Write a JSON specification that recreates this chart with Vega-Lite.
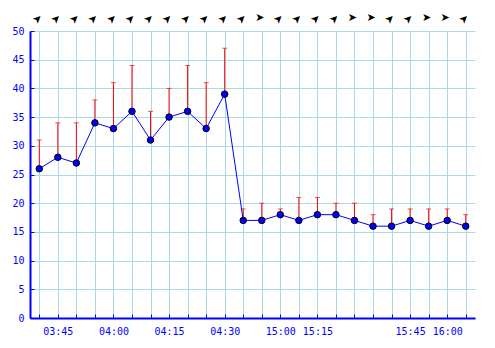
{
  "$schema": "https://vega.github.io/schema/vega-lite/v6.json",
  "autosize": {"type": "none"},
  "width": 445,
  "height": 287,
  "padding": {"left": 30, "top": 31, "right": 20, "bottom": 30},
  "background": "white",
  "config": {"view": {"stroke": null}},
  "data": {"values": [
    {"time": "03:40", "speed": 26, "gust": 31, "dir": 225},
    {"time": "03:45", "speed": 28, "gust": 34, "dir": 225},
    {"time": "03:50", "speed": 27, "gust": 34, "dir": 225},
    {"time": "03:55", "speed": 34, "gust": 38, "dir": 225},
    {"time": "04:00", "speed": 33, "gust": 41, "dir": 225},
    {"time": "04:05", "speed": 36, "gust": 44, "dir": 225},
    {"time": "04:10", "speed": 31, "gust": 36, "dir": 225},
    {"time": "04:15", "speed": 35, "gust": 40, "dir": 225},
    {"time": "04:20", "speed": 36, "gust": 44, "dir": 225},
    {"time": "04:25", "speed": 33, "gust": 41, "dir": 225},
    {"time": "04:30", "speed": 39, "gust": 47, "dir": 225},
    {"time": "14:40", "speed": 17, "gust": 19, "dir": 225},
    {"time": "14:52", "speed": 17, "gust": 20, "dir": 270},
    {"time": "15:00", "speed": 18, "gust": 19, "dir": 225},
    {"time": "15:08", "speed": 17, "gust": 21, "dir": 225},
    {"time": "15:15", "speed": 18, "gust": 21, "dir": 225},
    {"time": "15:20", "speed": 18, "gust": 20, "dir": 225},
    {"time": "15:26", "speed": 17, "gust": 20, "dir": 270},
    {"time": "15:32", "speed": 16, "gust": 18, "dir": 270},
    {"time": "15:38", "speed": 16, "gust": 19, "dir": 225},
    {"time": "15:45", "speed": 17, "gust": 19, "dir": 225},
    {"time": "15:52", "speed": 16, "gust": 19, "dir": 270},
    {"time": "16:00", "speed": 17, "gust": 19, "dir": 270},
    {"time": "16:07", "speed": 16, "gust": 18, "dir": 225}
  ]},
  "encoding": {
    "x": {
      "field": "time", "type": "ordinal", "sort": null,
      "scale": {"type": "point", "padding": 0.5},
      "axis": {
        "title": null, "grid": true, "gridColor": "#add8e6", "gridWidth": 1,
        "domainColor": "#0000ff", "domainWidth": 2,
        "tickColor": "#0000ff", "tickSize": -4, "tickWidth": 1,
        "labelColor": "#0000ff", "labelFont": "DejaVu Sans Mono", "labelFontSize": 10,
        "labelAngle": 0, "labelPadding": 12, "labelOverlap": false,
        "labelExpr": "toNumber(substring(datum.value, 3, 5)) % 15 == 0 ? datum.value : ''"
      }
    },
    "y": {
      "type": "quantitative",
      "scale": {"domain": [0, 50], "nice": false},
      "axis": {
        "title": null, "values": [0, 5, 10, 15, 20, 25, 30, 35, 40, 45, 50],
        "grid": true, "gridColor": "#add8e6", "gridWidth": 1,
        "domainColor": "#0000ff", "domainWidth": 2,
        "tickColor": "#0000ff", "tickSize": -4, "tickWidth": 1,
        "labelColor": "#0000ff", "labelFont": "DejaVu Sans Mono", "labelFontSize": 10,
        "labelPadding": 10
      }
    }
  },
  "layer": [
    {
      "mark": {"type": "rule", "color": "#ff0000", "strokeWidth": 1},
      "encoding": {"y": {"field": "speed", "type": "quantitative"}, "y2": {"field": "gust"}}
    },
    {
      "mark": {"type": "tick", "color": "#ff0000", "thickness": 1, "size": 5, "orient": "horizontal"},
      "encoding": {"y": {"field": "gust", "type": "quantitative"}}
    },
    {
      "mark": {"type": "line", "color": "#0000ff", "strokeWidth": 1},
      "encoding": {"y": {"field": "speed", "type": "quantitative"}}
    },
    {
      "mark": {"type": "point", "filled": true, "fill": "#0000ff", "stroke": "#000000", "strokeWidth": 1, "size": 42, "opacity": 1},
      "encoding": {"y": {"field": "speed", "type": "quantitative"}}
    },
    {
      "mark": {"type": "text", "text": "➤", "font": "DejaVu Sans", "fontSize": 11, "color": "#000000", "baseline": "middle", "align": "center", "dx": -2},
      "encoding": {
        "y": {"datum": 52.3, "type": "quantitative"},
        "angle": {"field": "dir", "type": "quantitative", "scale": {"domain": [0, 360], "range": [90, 450]}, "legend": null}
      }
    }
  ]
}
